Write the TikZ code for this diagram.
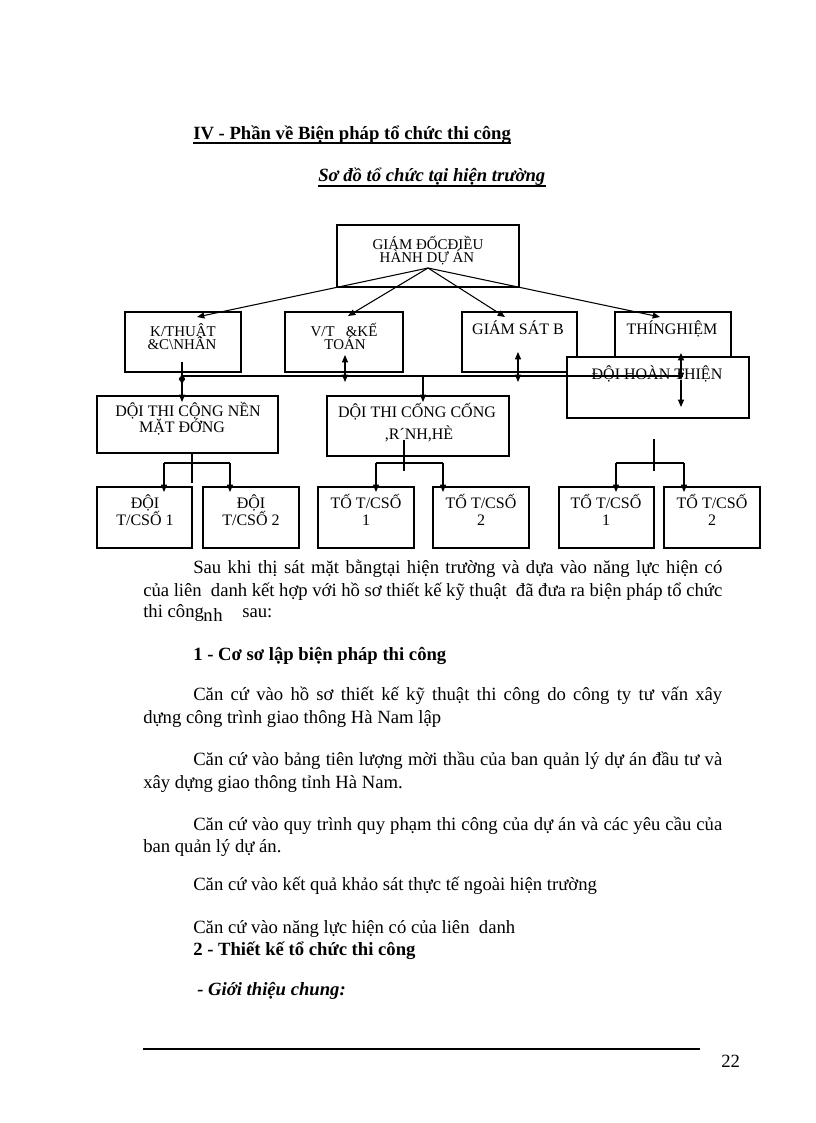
\documentclass[tikz,border=0pt]{standalone}
\usepackage{fontspec}
\setmainfont{Liberation Serif}
\usetikzlibrary{arrows.meta,fit}
\newcommand{\mkbox}[6][]{\node[bx,#1,fit={(#3,#4)(#5,#6)}] (#2) {};}
\tikzset{
  bx/.style={draw, line width=0.8pt, inner sep=0pt, outer sep=0pt},
  lbl/.style={anchor=base, inner sep=0pt, font=\fontsize{12}{12}\selectfont},
  tight/.style={font=\fontsize{11.2}{12}\selectfont},
  body/.style={anchor=base west, inner sep=0pt, font=\fontsize{14}{16}\selectfont},
  ln/.style={line width=0.8pt},
  arr/.style={ln, -{Triangle[length=5.5pt,width=4.5pt]}},
  darr/.style={ln, {Triangle[length=5.5pt,width=4.5pt]}-{Triangle[length=5.5pt,width=4.5pt]}},
  uline/.style={line width=1.1pt},
}
\begin{document}
\begin{tikzpicture}[x=0.75pt,y=-0.75pt]
\fill[white] (0,0) rectangle (816,1123);
\useasboundingbox (0,0) rectangle (816,1123);

% ---- headings ----
\node[body, font=\fontsize{14}{16}\selectfont\bfseries] (t1) at (193,140) {IV - Phần về Biện pháp tổ chức thi công};
\draw[uline] ([yshift=-2.4pt]t1.base west) -- ([yshift=-2.4pt]t1.base east);
\node[body, font=\fontsize{14}{16}\selectfont\bfseries\itshape] (t2) at (318,182) {Sơ đồ tổ chức tại hiện trường};
\draw[uline] ([yshift=-3pt]t2.base west) -- ([yshift=-3pt]t2.base east);

% ---- chart boxes ----
\mkbox{top}{337}{225}{519}{287}
\mkbox{kt}{125}{312}{241}{372}
\mkbox{vt}{285}{312}{403}{372}
\mkbox{gs}{462}{312}{577}{372}
\mkbox{tn}{615}{312}{731}{372}
\mkbox[fill=white]{dht}{567}{357}{749}{418}
\mkbox{nen}{97}{396}{278}{453}
\mkbox{cong}{327}{396}{509}{456}
\mkbox{da}{97}{487}{192}{548}
\mkbox{db}{203}{487}{299}{548}
\mkbox{ta}{318}{487}{414}{548}
\mkbox{tb}{433}{487}{529}{548}
\mkbox{ha}{559}{487}{654}{548}
\mkbox{hb}{664}{487}{760}{548}

% ---- chart labels ----
\node[lbl, tight] (top1) at (428,249) {GIÁM ĐỐCĐIỀU};
\node[lbl, tight] (top2) at (427,262.5) {HÀNH DỰ ÁN};
\node[lbl, tight] (kt1) at (183,336) {K/THUẬT};
\node[lbl, tight] (kt2) at (182,349.5) {\&C\textbackslash NHÂN};
\node[lbl, tight] (vt1) at (344,336) {V/T\ \ \ \&KẾ};
\node[lbl, tight] (vt2) at (345,349.5) {TOÁN};
\node[lbl] (gs1) at (518,334.5) {GIÁM SÁT B};
\node[lbl] (tn1) at (672,334.5) {THÍNGHIỆM};
\node[lbl] (dht1) at (657,379.5) {ĐỘI HOÀN THIỆN};
\node[lbl] (nen1) at (188,416.5) {DỘI THI CỘNG NỀN};
\node[lbl] (nen2) at (182,432.5) {MẶT ĐỚNG};
\node[lbl] (cong1) at (417,417) {DỘI THI CỐNG CỐNG};
\node[lbl] (cong2) at (419,439) {,R´NH,HÈ};
\node[lbl] (da1) at (145,508.5) {ĐỘI};
\node[lbl] (da2) at (145,525.5) {T/CSỐ 1};
\node[lbl] (db1) at (251,508.5) {ĐỘI};
\node[lbl] (db2) at (251,525.5) {T/CSỐ 2};
\node[lbl] (ta1) at (366,508.5) {TỐ T/CSỐ};
\node[lbl] (ta2) at (366,525.5) {1};
\node[lbl] (tb1) at (481,508.5) {TỐ T/CSỐ};
\node[lbl] (tb2) at (481,525.5) {2};
\node[lbl] (ha1) at (606,508.5) {TỔ T/CSỐ};
\node[lbl] (ha2) at (606,525.5) {1};
\node[lbl] (hb1) at (712,508.5) {TỔ T/CSỐ};
\node[lbl] (hb2) at (712,525.5) {2};

% ---- connector points ----
\coordinate (apex) at (428,268);
\coordinate (ktin) at (197,317);
\coordinate (vtin) at (348,316);
\coordinate (gsin) at (505,317);
\coordinate (tnin) at (660,317);
\coordinate (busL) at (182,376);
\coordinate (busR) at (683,376);
\coordinate (busM) at (423,376);

% top to second row
\draw[arr] (apex) -- (ktin);
\draw[arr] (apex) -- (vtin);
\draw[arr] (apex) -- (gsin);
\draw[arr] (apex) -- (tnin);

% bus
\draw[ln] (busL) -- (busR);

% verticals at the bus
\coordinate (ka) at (182,362);
\coordinate (kb) at (182,373);
\coordinate (kc) at (182,385);
\coordinate (kd) at (182,402);
\draw[arr] (ka) -- (kd);
\draw[darr] (kb) -- (kc);

\coordinate (va) at (345,355);
\coordinate (vb) at (345,382);
\draw[darr] (va) -- (vb);

\coordinate (ga) at (518,352);
\coordinate (gb) at (518,382);
\draw[darr] (ga) -- (gb);

\coordinate (ha) at (681,353);
\coordinate (hbq) at (681,380);
\coordinate (hc) at (681,407);
\draw[darr] (ha) -- (hbq);
\draw[arr] (hbq) -- (hc);

\coordinate (mtip) at (423,402);
\draw[arr] (busM) -- (mtip);

% third row to fourth row
\coordinate (g1s) at (192,453);
\coordinate (g1e) at (192,483);
\coordinate (g1l) at (164,463);
\coordinate (g1r) at (230,463);
\draw[ln] (g1s) -- (g1e);
\draw[ln] (g1l) -- (g1r);
\draw[arr] (g1l) -- (164,492);
\draw[arr] (g1r) -- (230,492);

\coordinate (g2s) at (404,440);
\coordinate (g2e) at (404,471);
\coordinate (g2l) at (376,463);
\coordinate (g2r) at (443,463);
\draw[ln] (g2s) -- (g2e);
\draw[ln] (g2l) -- (g2r);
\draw[arr] (g2l) -- (376,492);
\draw[arr] (g2r) -- (443,492);

\coordinate (g3s) at (654,439);
\coordinate (g3e) at (654,471);
\coordinate (g3l) at (616,463);
\coordinate (g3r) at (684,463);
\draw[ln] (g3s) -- (g3e);
\draw[ln] (g3l) -- (g3r);
\draw[arr] (g3l) -- (616,492);
\draw[arr] (g3r) -- (684,492);

% ---- body text ----
\node[body] (p1) at (193,573) {\makebox[396.75pt][s]{Sau khi thị sát mặt bằngtại hiện trường và dựa vào năng lực hiện có}};
\node[body] (p2) at (143,596) {\makebox[434.25pt][s]{của liên\ \ danh kết hợp với hồ sơ thiết kế kỹ thuật\ \ đã đưa ra biện pháp tổ chức}};
\node[body] (p3a) at (143,617) {thi công};
\node[body] (p3b) at (203,621) {n\kern0.5pt h};
\node[body] (p3c) at (242,617) {sau:};

\node[body, font=\fontsize{14}{16}\selectfont\bfseries] (h1) at (193,660) {1 - Cơ sơ lập biện pháp thi công};

\node[body] (c1a) at (193,700) {\makebox[396.75pt][s]{Căn cứ vào hồ sơ thiết kế kỹ thuật thi công do công ty tư vấn xây}};
\node[body] (c1b) at (143,723) {dựng công trình giao thông Hà Nam lập};
\node[body] (c2a) at (193,765) {\makebox[396.75pt][s]{Căn cứ vào bảng tiên lượng mời thầu của ban quản lý dự án đầu tư và}};
\node[body] (c2b) at (143,788) {xây dựng giao thông tỉnh Hà Nam.};
\node[body] (c3a) at (193,830) {\makebox[396.75pt][s]{Căn cứ vào quy trình quy phạm thi công của dự án và các yêu cầu của}};
\node[body] (c3b) at (143,852) {ban quản lý dự án.};
\node[body] (c4) at (193,890) {Căn cứ vào kết quả khảo sát thực tế ngoài hiện trường};
\node[body] (c5) at (193,933) {Căn cứ vào năng lực hiện có của liên\ \ danh};
\node[body, font=\fontsize{14}{16}\selectfont\bfseries] (h2) at (193,955) {2 - Thiết kế tổ chức thi công};
\node[body, font=\fontsize{14}{16}\selectfont\bfseries\itshape] (h3) at (197,995) {- Giới thiệu chung:};

% ---- footer ----
\coordinate (fl) at (143,1049);
\coordinate (fr) at (700,1049);
\draw[line width=1.6pt] (fl) -- (fr);
\node[body, font=\fontsize{14}{16}\selectfont] (pg) at (721,1067) {22};
\end{tikzpicture}
\end{document}
